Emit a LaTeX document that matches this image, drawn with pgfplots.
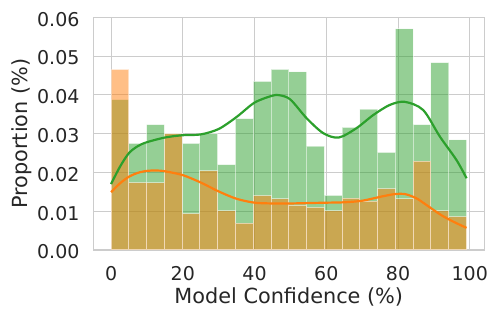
\documentclass[border=0pt]{standalone}
\usepackage{pgfplots}
\pgfplotsset{compat=1.18}
\usepackage{fontspec}
\setmainfont{DejaVu Sans}
\definecolor{txt}{RGB}{38,38,38}
\definecolor{gridc}{RGB}{204,204,204}
\definecolor{tgreen}{HTML}{2CA02C}
\definecolor{torange}{HTML}{FF7F0E}
\begin{document}
\begin{tikzpicture}
\begin{axis}[
  scale only axis,
  width=195.5pt, height=116.35pt,
  xmin=-4.955, xmax=104.055,
  ymin=0, ymax=0.06,
  xtick={0,20,40,60,80,100},
  ytick={0,0.01,0.02,0.03,0.04,0.05,0.06},
  scaled y ticks=false,
  yticklabel style={/pgf/number format/fixed,/pgf/number format/precision=2,/pgf/number format/fixed zerofill, xshift=-3.4pt, yshift=-1pt},
  xticklabel style={yshift=-4.9pt},
  /pgf/number format/assume math mode=true,
  ticklabel style={font=\fontsize{9.5}{11}\selectfont, text=txt},
  major tick length=0pt,
  grid=major,
  grid style={gridc, line width=0.5pt},
  axis line style={gridc, line width=0.6pt},
  xlabel={Model Confidence (\%)},
  ylabel={Proportion (\%)},
  label style={font=\fontsize{10.4}{12}\selectfont, text=txt},
  xlabel style={at={(axis description cs:0.5,-0.232)}, anchor=base},
  ylabel style={at={(axis description cs:-0.1688,0.5)}, anchor=base, rotate=0},
]
% green histogram
\addplot[ybar interval, fill=tgreen, draw=white, opacity=0.5, line width=0.5pt] coordinates {
(0,0.0388) (4.955,0.0275) (9.91,0.0323) (14.865,0.0300) (19.82,0.0275)
(24.775,0.0300) (29.73,0.0220) (34.685,0.0339) (39.64,0.0435) (44.595,0.0466)
(49.55,0.0459) (54.505,0.0268) (59.46,0.0141) (64.415,0.0316) (69.37,0.0363)
(74.325,0.0252) (79.28,0.0570) (84.235,0.0323) (89.19,0.0483) (94.145,0.0284)
(99.1,0.0284)};
% orange histogram
\addplot[ybar interval, fill=torange, draw=white, opacity=0.5, line width=0.5pt] coordinates {
(0,0.0466) (4.955,0.0174) (9.91,0.0173) (14.865,0.0300) (19.82,0.0094)
(24.775,0.0204) (29.73,0.0101) (34.685,0.0069) (39.64,0.0140) (44.595,0.0132)
(49.55,0.0115) (54.505,0.0110) (59.46,0.0101) (64.415,0.0134) (69.37,0.0126)
(74.325,0.0158) (79.28,0.0132) (84.235,0.0229) (89.19,0.0101) (94.145,0.0086)
(99.1,0.0086)};
% green KDE
\addplot[tgreen, line width=1.1pt, smooth, no marks] coordinates {
(0,0.0170) (2.5,0.0215) (5,0.0250) (7.5,0.0268) (10,0.0278) (15,0.0290)
(20,0.0296) (25,0.0298) (30,0.0312) (35,0.0343) (40,0.0380) (45,0.0398)
(47,0.0399) (50,0.0388) (54.5,0.0340) (59.2,0.0301) (63.5,0.0290)
(68.4,0.0314) (73.1,0.0348) (77.7,0.0374) (81.9,0.0382) (87,0.0361)
(91.7,0.0292) (96.3,0.0232) (99.1,0.0185)};
% orange KDE
\addplot[torange, line width=1.1pt, smooth, no marks] coordinates {
(0,0.0149) (2.5,0.0172) (5,0.0189) (7.5,0.0199) (10,0.0204) (12.5,0.0205)
(15,0.0203) (20,0.0193) (25,0.0174) (30,0.0151) (35,0.0132) (40,0.0122)
(45,0.0120) (50,0.0120) (55,0.0121) (60,0.0122) (65,0.0123) (70,0.0127)
(75,0.0137) (79,0.0144) (82,0.0144) (85,0.0134) (87,0.0122) (91.7,0.0092)
(95,0.0075) (99.1,0.0057)};
\end{axis}
\pgfresetboundingbox
\path ([shift={(-46.65pt,-34.5pt)}]current axis.south west) rectangle ([shift={(6.85pt,8.65pt)}]current axis.north east);
\end{tikzpicture}
\end{document}
